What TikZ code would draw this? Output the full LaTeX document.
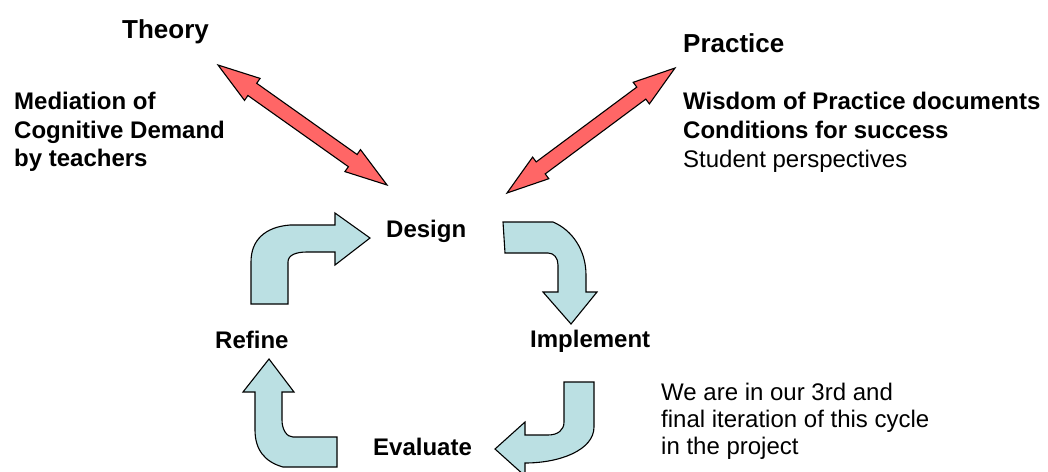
\documentclass[tikz,border=0pt]{standalone}
\usepackage{fontspec}
\setmainfont{Liberation Sans}
\definecolor{arrowred}{RGB}{255,102,102}
\definecolor{arrowblue}{RGB}{187,224,227}
\begin{document}
\begin{tikzpicture}[x=1pt,y=-1pt,
  redarrow/.style={draw=black,fill=arrowred,line width=1.1pt,line join=miter},
  bluearrow/.style={draw=black,fill=arrowblue,line width=1.1pt,line join=miter},
  title/.style={anchor=base west,inner sep=0pt,font=\fontsize{26}{30}\selectfont\bfseries},
  boldtxt/.style={anchor=base west,inner sep=0pt,font=\fontsize{24}{28}\selectfont\bfseries},
  plaintxt/.style={anchor=base west,inner sep=0pt,font=\fontsize{24}{28}\selectfont}]
\useasboundingbox (0,0) rectangle (1048,471);
\fill[white] (0,0) rectangle (1048,471);

% titles
\node[title] (theory) at (122,38) {Theory};
\node[title] (practice) at (683,52) {Practice};

% theory notes
\node[boldtxt] (med1) at (14,109) {Mediation of};
\node[boldtxt] (med2) at (14,138) {Cognitive Demand};
\node[boldtxt] (med3) at (14,166) {by teachers};

% practice notes
\node[boldtxt] (pr1) at (683,109) {Wisdom of Practice documents};
\node[boldtxt] (pr2) at (683,138) {Conditions for success};
\node[plaintxt] (pr3) at (683,167) {Student perspectives};

% cycle labels
\node[boldtxt] (design) at (386,237) {Design};
\node[boldtxt] (implement) at (530,347) {Implement};
\node[boldtxt] (refine) at (215,348) {Refine};
\node[boldtxt] (evaluate) at (373,455) {Evaluate};

% note
\node[plaintxt] (note1) at (661,400) {We are in our 3rd and};
\node[plaintxt] (note2) at (661,427) {final iteration of this cycle};
\node[plaintxt] (note3) at (661,454) {in the project};

% red double arrows
\draw[redarrow] (218,65) -- (244.5,100.4) -- (247.9,95.5) -- (348.4,166.7) -- (344.9,171.6)
  -- (387,185) -- (360.5,149.6) -- (357.1,154.5) -- (256.7,83.3) -- (260.1,78.4) -- cycle;
\draw[redarrow] (675,68) -- (633.2,82.3) -- (636.8,87.1) -- (536.2,161.9) -- (532.6,157.1)
  -- (507,193) -- (548.8,178.7) -- (545.2,173.9) -- (645.8,99.1) -- (649.4,103.9) -- cycle;

% blue bent arrows
% top-left (Refine -> Design)
\draw[bluearrow] (251,304) -- (288,304) -- (288,262) .. controls (288,255) and (296,252) .. (307,252)
  -- (335,252) -- (335,265) -- (370,238) -- (335,213) -- (335,225) -- (290,225)
  .. controls (265,227) and (251,240) .. (251,262) -- cycle;
% top-right (Design -> Implement)
\draw[bluearrow] (503,222) -- (553,222) .. controls (572,230) and (586,250) .. (586,275)
  -- (586,292) -- (597,292) -- (571,324) -- (543,292) -- (558,292) -- (558,265)
  .. controls (558,258) and (554,253) .. (548,253) -- (505,253) -- cycle;
% bottom-right (Implement -> Evaluate)
\draw[bluearrow] (564,382) -- (594,382) -- (594,427) .. controls (594,450) and (560,463) .. (525,463)
  -- (525,476) -- (495,449) -- (525,422) -- (525,435) -- (548,435)
  .. controls (558,435) and (564,430) .. (564,422) -- cycle;
% bottom-left (Evaluate -> Refine)
\draw[bluearrow] (269,359) -- (294,392) -- (282,392) -- (282,420) .. controls (282,430) and (287,437) .. (293,437)
  -- (337,437) -- (337,467) -- (283,467) .. controls (265,462) and (255,450) .. (255,430)
  -- (255,392) -- (243,392) -- cycle;
\end{tikzpicture}
\end{document}
